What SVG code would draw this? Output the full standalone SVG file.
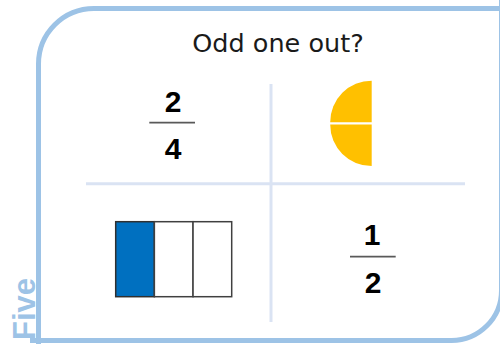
<svg xmlns="http://www.w3.org/2000/svg" width="500" height="344" viewBox="0 0 500 344">
  <style>
    .frame { fill: none; stroke: #9DC3E6; stroke-width: 5; }
    .div { stroke: #DAE3F3; stroke-width: 3; fill: none; }
    .num { font-family: "Liberation Sans", Arial, sans-serif; font-weight: bold; font-size: 30px; fill: #000; text-anchor: middle; }
    .bar { stroke: #595959; stroke-width: 1.8; }
    .cell { fill: #fff; stroke: #404040; stroke-width: 1.5; }
  </style>
  <rect width="500" height="344" fill="#fff"/>
  <g id="frame">
    <path class="frame" d="M38.5,350 V64 A55.5,55.5 0 0 1 94,8.5 H510 M30,340.5 H451.5 A50,50 0 0 0 501.5,290.5 V0"/>
    <text transform="translate(35,340) rotate(-90)" font-family="'Liberation Sans', Arial, sans-serif" font-weight="bold" font-size="31" fill="#9DC3E6">Five</text>
  </g>
  <g id="title">
    <text x="278" y="52" font-family="'DejaVu Sans', sans-serif" font-size="25.5" fill="#1a1a1a" text-anchor="middle">Odd one out?</text>
  </g>
  <g id="dividers">
    <line class="div" x1="271" y1="84" x2="271" y2="322"/>
    <line class="div" x1="86" y1="183.7" x2="465" y2="183.7"/>
  </g>
  <g id="fraction-2-4">
    <text class="num" x="173" y="111.7">2</text>
    <line class="bar" x1="149.3" y1="122.7" x2="195" y2="122.7"/>
    <text class="num" x="173" y="159">4</text>
  </g>
  <g id="half-circle">
    <path fill="#FFC000" d="M371.7,122.2 V80.7 A41.5,41.5 0 0 0 330.2,122.2 Z"/>
    <path fill="#FFC000" d="M371.7,124.6 H330.2 A41.5,41.5 0 0 0 371.7,166.1 Z"/>
  </g>
  <g id="bar-model">
    <rect x="115.7" y="221.7" width="38.67" height="75" fill="#0070C0" stroke="#303030" stroke-width="1.5"/>
    <rect class="cell" x="154.37" y="221.7" width="38.67" height="75"/>
    <rect class="cell" x="193.04" y="221.7" width="38.66" height="75"/>
  </g>
  <g id="fraction-1-2">
    <text class="num" x="372" y="245">1</text>
    <line class="bar" x1="350" y1="256.7" x2="395.7" y2="256.7"/>
    <text class="num" x="373" y="292.7">2</text>
  </g>
</svg>
